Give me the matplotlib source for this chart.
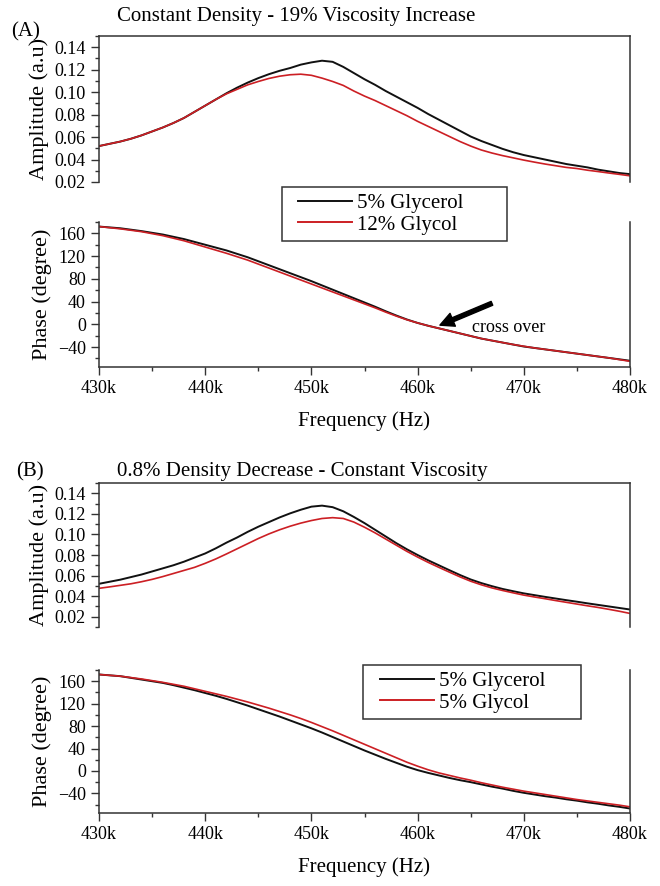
import matplotlib.pyplot as plt
from matplotlib.lines import Line2D
from matplotlib.patches import Rectangle
from matplotlib.ticker import MultipleLocator, FixedLocator, FixedFormatter

plt.rcParams['font.family'] = ['Liberation Serif', 'DejaVu Serif']

# Frequency grid (kHz), values every 1 kHz
freq_khz = list(range(430, 481))

# (A) constant density, 19% viscosity increase
amp_a_glycerol = [0.052, 0.054, 0.056, 0.0585, 0.0615, 0.065, 0.0685, 0.0725, 0.077, 0.0825,
                  0.088, 0.0935, 0.099, 0.104, 0.1085, 0.1125, 0.116, 0.119, 0.1215, 0.1245,
                  0.1265, 0.128, 0.127, 0.1225, 0.117, 0.1115, 0.1065, 0.101, 0.096, 0.091,
                  0.086, 0.0805, 0.0755, 0.0705, 0.0655, 0.0605, 0.0565, 0.053, 0.0495, 0.0465,
                  0.044, 0.042, 0.040, 0.038, 0.036, 0.0345, 0.033, 0.031, 0.0295, 0.028,
                  0.027]
amp_a_glycol = [0.052, 0.054, 0.056, 0.0585, 0.0615, 0.065, 0.0685, 0.0725, 0.077, 0.0825,
                0.088, 0.0935, 0.0985, 0.1025, 0.1065, 0.1095, 0.1122, 0.1142, 0.1155, 0.116,
                0.115, 0.1125, 0.1095, 0.106, 0.101, 0.0965, 0.0925, 0.088, 0.0835, 0.079,
                0.074, 0.0695, 0.065, 0.0605, 0.056, 0.052, 0.0485, 0.0458, 0.0435, 0.0415,
                0.0395, 0.0377, 0.036, 0.0345, 0.033, 0.032, 0.0305, 0.0293, 0.028, 0.0268,
                0.0255]
phase_a_glycerol = [172, 170.5, 169, 166.5, 164, 161, 158, 154, 150, 145,
                    140, 135, 130, 124, 118, 111, 104, 97, 90, 83,
                    76, 68.5, 61, 53.5, 46, 38.5, 31, 23, 15.5, 8.5,
                    2.5, -2.5, -7, -11.5, -16, -20.5, -25, -28.5, -32, -35.5,
                    -39, -41.5, -44, -46.5, -49, -51.5, -54, -56.5, -59, -61.5,
                    -64]
phase_a_glycol = [172, 170, 168, 165.5, 163, 159.5, 156, 151.5, 147, 141.5,
                  136, 130.5, 125, 119, 113, 106, 99, 92, 85, 78,
                  71, 64, 57, 50, 43, 36, 29, 21.5, 14.5, 8,
                  2.5, -2.5, -7, -11.5, -16, -20.5, -25, -28.5, -32, -35.5,
                  -38.5, -41.5, -44, -46.5, -49, -51.5, -54, -56.5, -59, -62,
                  -65]

# (B) 0.8% density decrease, constant viscosity
amp_b_glycerol = [0.052, 0.054, 0.056, 0.0585, 0.061, 0.064, 0.067, 0.070, 0.0735, 0.0775,
                  0.0815, 0.0865, 0.092, 0.097, 0.1025, 0.1075, 0.112, 0.1165, 0.1205, 0.124,
                  0.127, 0.128, 0.1265, 0.1225, 0.117, 0.111, 0.1045, 0.098, 0.0915, 0.0855,
                  0.080, 0.0748, 0.070, 0.0652, 0.0605, 0.0562, 0.0527, 0.0497, 0.047, 0.0448,
                  0.0427, 0.041, 0.0393, 0.0377, 0.0361, 0.0346, 0.033, 0.0315, 0.030, 0.0285,
                  0.027]
amp_b_glycol = [0.0476, 0.049, 0.0505, 0.052, 0.054, 0.0563, 0.059, 0.062, 0.065, 0.068,
                0.0719, 0.0762, 0.081, 0.086, 0.091, 0.096, 0.1005, 0.1045, 0.108, 0.111,
                0.1135, 0.1155, 0.1163, 0.1155, 0.112, 0.107, 0.1015, 0.0955, 0.0895, 0.0835,
                0.078, 0.0728, 0.068, 0.0633, 0.0587, 0.0545, 0.051, 0.048, 0.0455, 0.0432,
                0.041, 0.0392, 0.0375, 0.0357, 0.034, 0.0323, 0.0306, 0.029, 0.0272, 0.0253,
                0.0232]
phase_b_glycerol = [172, 170.5, 169, 166, 163, 160, 157, 153, 148.5, 144,
                    139, 134, 128.5, 122.5, 116.5, 110, 103.5, 97, 90, 83,
                    76, 68.5, 60.5, 52.5, 44.5, 36.5, 29, 21.5, 14.5, 7.5,
                    1.5, -3.5, -8, -12.5, -16.5, -20, -24, -28, -31.5, -35.5,
                    -39, -42, -45, -47.5, -50.5, -53, -56, -58.5, -61.5, -64,
                    -67]
phase_b_glycol = [172, 170.5, 169, 166.5, 164, 161, 158, 154.5, 151, 146.5,
                  142, 137.5, 133, 128, 123, 117.5, 112, 106, 100, 93.5,
                  86.5, 79, 71.5, 63.5, 55.5, 47.5, 39.5, 31.5, 23.5, 15.5,
                  8.5, 2, -3.5, -8, -12.5, -16.5, -21, -25, -29, -32.5,
                  -36, -39, -42, -45, -48, -51, -53.5, -56, -58.5, -61,
                  -64]

xtick_vals = [430, 440, 450, 460, 470, 480]
xtick_labels = ['430k', '440k', '450k', '460k', '470k', '480k']

BLACK = '#111111'
RED = '#cc1f24'
SPINE = '#333333'

W, H = 660, 886
fig = plt.figure(figsize=(W / 100, H / 100), dpi=100)


def px_box(left, top, right, bottom):
    """Axes rectangle from pixel edges (origin top-left)."""
    return [left / W, 1 - bottom / H, (right - left) / W, (bottom - top) / H]


def style(ax, kind):
    for s in ax.spines.values():
        s.set_color(SPINE)
        s.set_linewidth(1.1)
    ax.tick_params(which='both', direction='out', colors=SPINE, labelcolor='black',
                   labelsize=13, right=False, top=False, width=1.0)
    ax.tick_params(which='major', length=6)
    ax.tick_params(which='minor', length=3)
    ax.set_xlim(430, 480)
    ax.xaxis.set_major_locator(FixedLocator(xtick_vals))
    ax.xaxis.set_major_formatter(FixedFormatter(xtick_labels))
    ax.xaxis.set_minor_locator(MultipleLocator(5))
    if kind == 'amp':
        ax.spines['bottom'].set_visible(False)
        ax.tick_params(axis='x', which='both', bottom=False, labelbottom=False)
        ax.set_yticks([0.02, 0.04, 0.06, 0.08, 0.10, 0.12, 0.14])
        ax.set_yticklabels(['0.02', '0.04', '0.06', '0.08', '0.10', '0.12', '0.14'])
        ax.yaxis.set_minor_locator(MultipleLocator(0.01))
        ax.set_ylabel('Amplitude (a.u)', fontsize=16, labelpad=4)
    else:
        ax.spines['top'].set_visible(False)
        ax.set_ylim(-75, 180)
        ax.set_yticks([-40, 0, 40, 80, 120, 160])
        ax.yaxis.set_minor_locator(MultipleLocator(20))
        ax.set_ylabel('Phase (degree)', fontsize=16, labelpad=4)
        ax.set_xlabel('Frequency (Hz)', fontsize=15, labelpad=10)


def boxed_legend(left, top, right, bottom, handle_left, labels):
    # plain rectangle for the frame, legend entries placed inside it
    fig.add_artist(Rectangle((left / W, 1 - bottom / H), (right - left) / W,
                             (bottom - top) / H, transform=fig.transFigure,
                             facecolor='white', edgecolor=SPINE, lw=1.1, zorder=10))
    handles = [Line2D([], [], color=BLACK, lw=1.4), Line2D([], [], color=RED, lw=1.4)]
    leg = fig.legend(handles, labels, loc='center left',
                     bbox_to_anchor=(handle_left / W, 1 - (top + bottom) / 2 / H),
                     fontsize=15, frameon=False, handlelength=2.6,
                     handletextpad=0.25, borderpad=0, borderaxespad=0,
                     labelspacing=0.1)
    leg.set_zorder(11)


# ---- Panel A ----
ax1 = fig.add_axes(px_box(99, 36, 630, 182))
ax1.plot(freq_khz, amp_a_glycerol, color=BLACK, lw=1.4)
ax1.plot(freq_khz, amp_a_glycol, color=RED, lw=1.2)
style(ax1, 'amp')
ax1.set_ylim(0.02, 0.15)

ax2 = fig.add_axes(px_box(99, 222, 630, 367))
ax2.plot(freq_khz, phase_a_glycerol, color=BLACK, lw=1.4)
ax2.plot(freq_khz, phase_a_glycol, color=RED, lw=1.2)
style(ax2, 'phase')
ax2.annotate('', xy=(462.1, -1.4), xytext=(467.0, 37),
             arrowprops=dict(facecolor='black', edgecolor='black', width=3,
                             headwidth=10, headlength=10, shrink=0))
ax2.text(465.1, -5, 'cross over', fontsize=13, va='center', ha='left')
boxed_legend(282, 187, 507, 241, 298, ['5% Glycerol', '12% Glycol'])

fig.text(26 / W, 1 - 32 / H, '(A)', fontsize=15, ha='center', va='center')
fig.text(296 / W, 1 - 17 / H, 'Constant Density - 19% Viscosity Increase',
         fontsize=15, ha='center', va='center')

# ---- Panel B ----
ax3 = fig.add_axes(px_box(99, 483, 630, 627))
ax3.plot(freq_khz, amp_b_glycerol, color=BLACK, lw=1.4)
ax3.plot(freq_khz, amp_b_glycol, color=RED, lw=1.2)
style(ax3, 'amp')
ax3.set_ylim(0.01, 0.15)

ax4 = fig.add_axes(px_box(99, 670, 630, 813))
ax4.plot(freq_khz, phase_b_glycerol, color=BLACK, lw=1.4)
ax4.plot(freq_khz, phase_b_glycol, color=RED, lw=1.2)
style(ax4, 'phase')
boxed_legend(363, 665, 581, 719, 380, ['5% Glycerol', '5% Glycol'])

fig.text(30 / W, 1 - 472 / H, '(B)', fontsize=15, ha='center', va='center')
fig.text(302 / W, 1 - 472 / H, '0.8% Density Decrease - Constant Viscosity',
         fontsize=15, ha='center', va='center')

fig.savefig('out.png', dpi=100)
